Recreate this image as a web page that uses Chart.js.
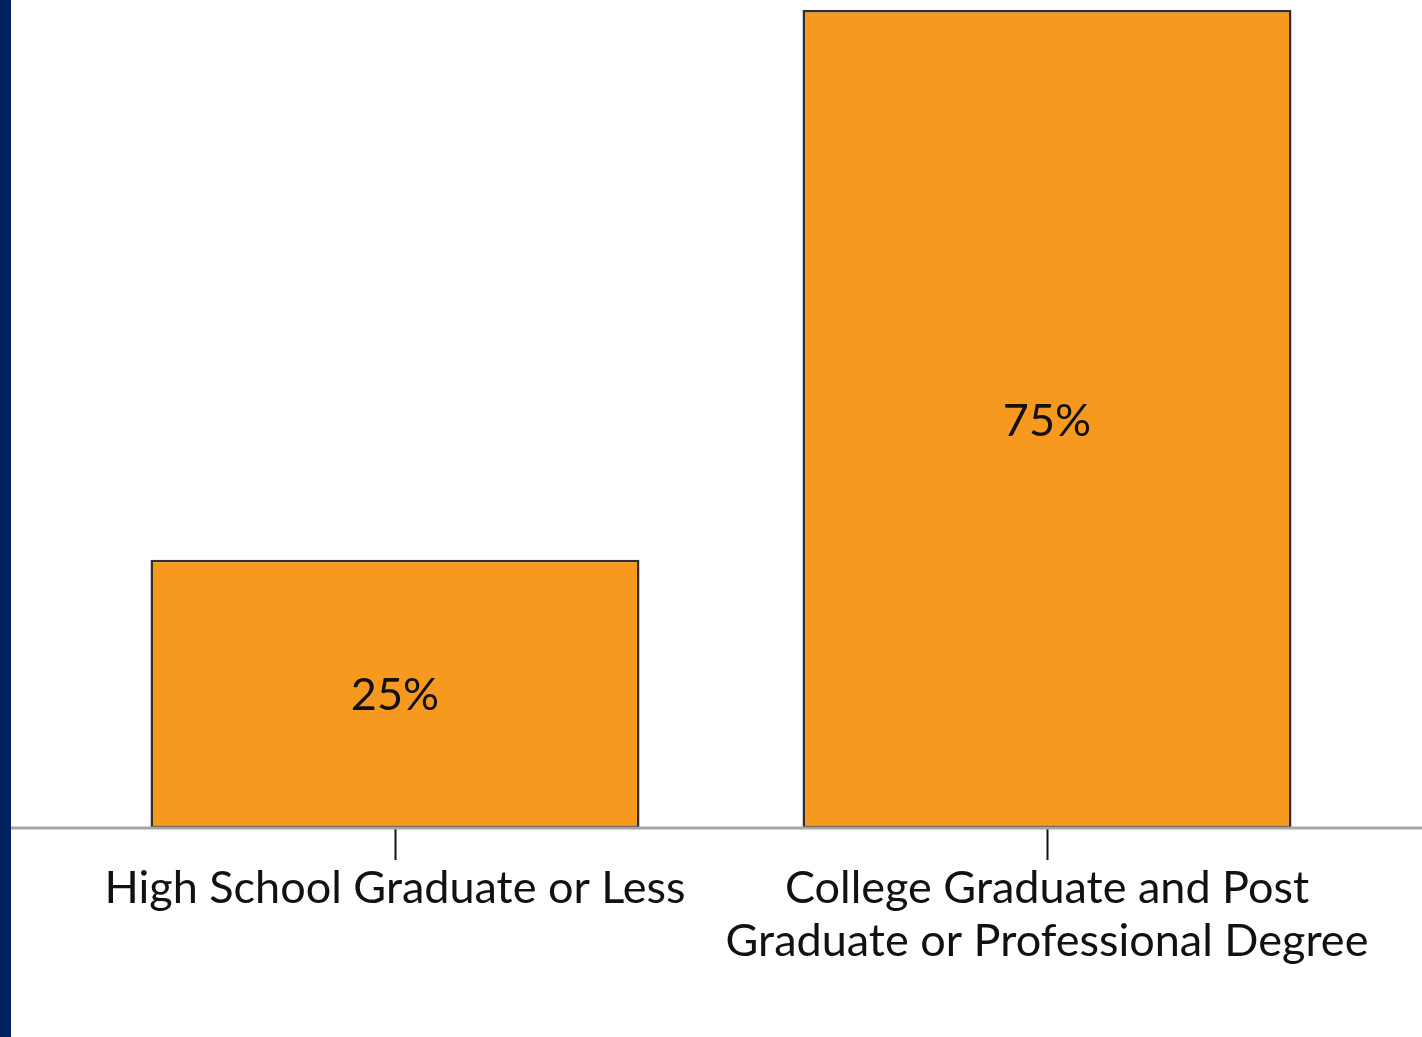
<!DOCTYPE html>
<html>
<head>
<meta charset="utf-8">
<script src="https://cdn.jsdelivr.net/npm/chart.js@4.4.1/dist/chart.umd.min.js"></script>
<style>
    html, body { margin: 0; padding: 0; background: #ffffff; }
    body { width: 1422px; height: 1037px; overflow: hidden; position: relative; }
    #strip { position: absolute; left: 0; top: 0; width: 11px; height: 1037px; background: #002060; }
    #wrap { position: absolute; left: 11px; top: 0; width: 1411px; height: 1037px; }
</style>
</head>
<body>
<div id="strip"></div>
<div id="wrap"><canvas id="eduChart"></canvas></div>
<script>
// Data (bars drawn a little under / over the rounded labels)
const categories = [
    'High School Graduate or Less',
    ['College Graduate and Post', 'Graduate or Professional Degree']
];
const shares = [24.7, 75.3];
const valueLabels = ['25%', '75%'];

const FONT = 'Lato, "Open Sans", sans-serif';

// Baseline across the whole canvas at the zero value
const baselinePlugin = {
    id: 'baseline',
    afterDatasetsDraw(chart) {
        const ctx = chart.ctx;
        const y = chart.scales.y.getPixelForValue(0);
        ctx.save();
        ctx.strokeStyle = '#a6a6a6';
        ctx.lineWidth = 3;
        ctx.beginPath();
        ctx.moveTo(0, y);
        ctx.lineTo(chart.width, y);
        ctx.stroke();
        ctx.restore();
    }
};

// Percent labels in the middle of each bar
const valueLabelPlugin = {
    id: 'valueLabels',
    afterDatasetsDraw(chart) {
        const ctx = chart.ctx;
        const meta = chart.getDatasetMeta(0);
        ctx.save();
        ctx.font = '45px ' + FONT;
        ctx.fillStyle = '#111111';
        ctx.textAlign = 'center';
        ctx.textBaseline = 'middle';
        meta.data.forEach((bar, i) => {
            const mid = (bar.y + bar.base) / 2;
            ctx.fillText(valueLabels[i], bar.x, mid + 2);
        });
        ctx.restore();
    }
};

function createChart() {
    new Chart(document.getElementById('eduChart'), {
        type: 'bar',
        data: {
            labels: categories,
            datasets: [{
                data: shares,
                backgroundColor: '#f8991f',
                borderColor: '#2e2e2e',
                borderWidth: 2.5,
                borderSkipped: false,
                barPercentage: 0.75,
                categoryPercentage: 1.0
            }]
        },
        options: {
            responsive: true,
            maintainAspectRatio: false,
            animation: false,
            layout: { padding: { top: 10, left: 58, right: 49, bottom: 0 } },
            plugins: {
                legend: { display: false },
                tooltip: { enabled: false }
            },
            scales: {
                x: {
                    offset: true,
                    grid: {
                        offset: false,
                        drawOnChartArea: false,
                        drawTicks: true,
                        tickLength: 32,
                        tickWidth: 2,
                        tickColor: '#111111'
                    },
                    border: { display: false },
                    ticks: {
                        color: '#111111',
                        font: { family: FONT, size: 45, lineHeight: 1.18 },
                        padding: 2,
                        maxRotation: 0,
                        autoSkip: false
                    },
                    afterFit(scale) { scale.height = 209; }
                },
                y: {
                    display: false,
                    min: 0,
                    max: 75.3
                }
            }
        },
        plugins: [baselinePlugin, valueLabelPlugin]
    });
}

document.addEventListener('DOMContentLoaded', createChart);
</script>
</body>
</html>
